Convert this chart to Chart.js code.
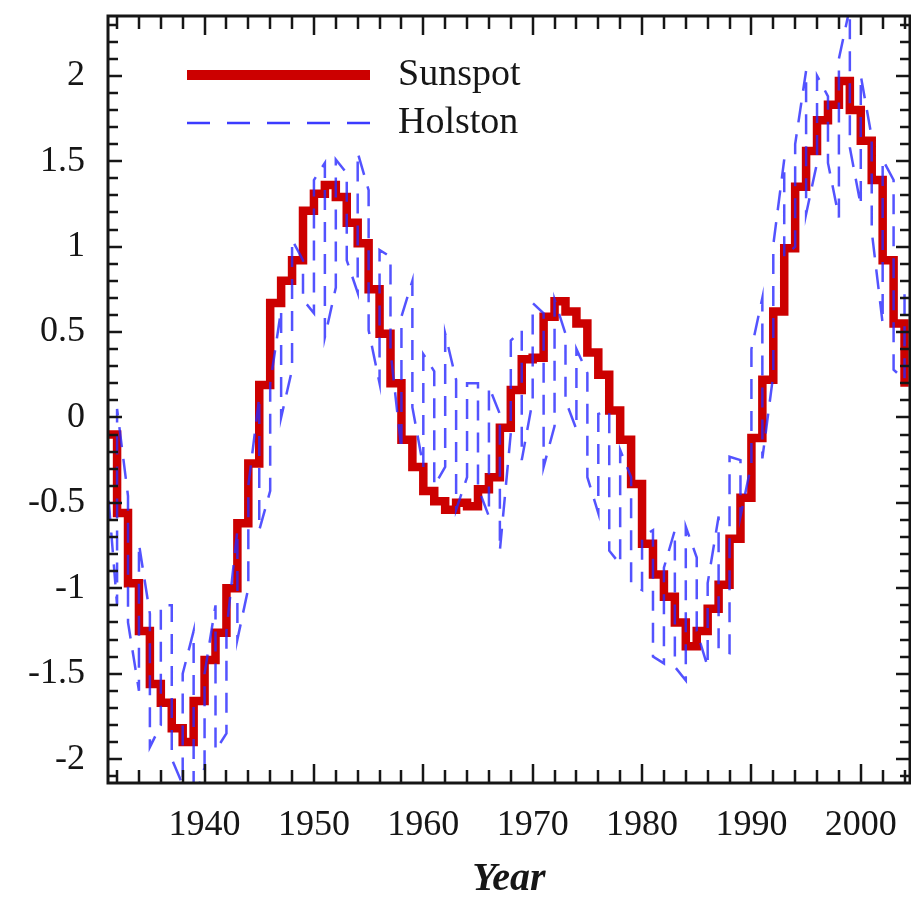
<!DOCTYPE html>
<html>
<head>
<meta charset="utf-8">
<script src="https://cdn.jsdelivr.net/npm/chart.js@4.4.0/dist/chart.umd.min.js"></script>
<style>
  html, body { margin: 0; padding: 0; background: #fff; }
  #wrap { width: 911px; height: 897px; }
</style>
</head>
<body>
<div id="wrap"><canvas id="chart" width="911" height="897"></canvas></div>
<script>
// --- Data ---
const years = [
  1931, 1932, 1933, 1934, 1935, 1936, 1937, 1938, 1939, 1940,
  1941, 1942, 1943, 1944, 1945, 1946, 1947, 1948, 1949, 1950,
  1951, 1952, 1953, 1954, 1955, 1956, 1957, 1958, 1959, 1960,
  1961, 1962, 1963, 1964, 1965, 1966, 1967, 1968, 1969, 1970,
  1971, 1972, 1973, 1974, 1975, 1976, 1977, 1978, 1979, 1980,
  1981, 1982, 1983, 1984, 1985, 1986, 1987, 1988, 1989, 1990,
  1991, 1992, 1993, 1994, 1995, 1996, 1997, 1998, 1999, 2000,
  2001, 2002, 2003, 2004
];

// Sunspot (annual, drawn as steps)
const sunspot = [
  -0.10, -0.56, -0.97, -1.25, -1.56, -1.67, -1.82, -1.90, -1.66, -1.42,
  -1.26, -1.00, -0.62, -0.27, 0.19, 0.67, 0.80, 0.92, 1.21, 1.31,
  1.36, 1.29, 1.14, 1.02, 0.75, 0.49, 0.20, -0.13, -0.29, -0.43,
  -0.49, -0.54, -0.50, -0.52, -0.42, -0.35, -0.06, 0.16, 0.34, 0.35,
  0.59, 0.68, 0.62, 0.55, 0.38, 0.25, 0.04, -0.13, -0.39, -0.74,
  -0.92, -1.05, -1.20, -1.34, -1.25, -1.12, -0.98, -0.71, -0.47, -0.12,
  0.22, 0.62, 0.99, 1.35, 1.56, 1.74, 1.83, 1.97, 1.80, 1.62,
  1.39, 0.92, 0.55, 0.18
];

// Holston: upper and lower value of each year's swing
const holstonHigh = [
  -0.05, 0.05, -0.46, -0.74, -1.15, -1.10, -1.10, -1.50, -1.25, -1.50,
  -1.10, -1.25, -0.66, -0.40, 0.12, 0.20, 0.63, 1.04, 0.92, 1.39,
  1.49, 1.51, 1.43, 1.55, 1.33, 0.98, 0.94, 0.59, 0.80, 0.37,
  0.27, 0.49, 0.22, 0.20, 0.20, 0.18, 0.02, 0.45, 0.51, 0.67,
  0.61, 0.69, 0.49, 0.40, 0.26, 0.02, 0.04, -0.19, -0.35, -0.70,
  -0.66, -0.88, -0.66, -0.64, -0.82, -0.97, -0.58, -0.23, -0.25, 0.40,
  0.70, 1.01, 1.51, 1.60, 2.03, 2.00, 1.88, 2.10, 2.40, 2.00,
  1.64, 1.51, 1.39, 0.79
];
const holstonLow = [
  -0.30, -1.10, -1.20, -1.60, -1.93, -1.80, -2.00, -2.15, -2.25, -2.05,
  -1.95, -1.85, -1.30, -1.00, -0.66, -0.43, 0.00, 0.28, 0.69, 0.61,
  0.47, 0.76, 0.92, 0.73, 0.51, 0.20, 0.39, -0.19, 0.06, -0.29,
  -0.40, -0.29, -0.54, -0.35, -0.41, -0.58, -0.78, -0.09, -0.25, 0.10,
  -0.29, -0.05, 0.10, -0.07, -0.35, -0.56, -0.78, -0.86, -0.97, -1.01,
  -1.40, -1.44, -1.46, -1.54, -1.25, -1.46, -1.36, -1.38, -0.58, -0.27,
  -0.24, 0.25, 0.94, 1.00, 1.19, 1.49, 1.49, 1.17, 1.58, 1.24,
  1.09, 0.55, 0.28, 0.22
];

const xTickLabels = [1940, 1950, 1960, 1970, 1980, 1990, 2000];

// --- Build datasets ---
const sunspotPoints = years.map((yr, i) => ({ x: yr, y: sunspot[i] }));

// each year is one vertical swing; direction alternates so the path zigzags
const holstonPoints = [];
years.forEach((yr, i) => {
  const pair = i % 2 === 0 ? [holstonHigh[i], holstonLow[i]] : [holstonLow[i], holstonHigh[i]];
  holstonPoints.push({ x: yr, y: pair[0] }, { x: yr, y: pair[1] });
});

const SERIF = '"Liberation Serif", "Times New Roman", serif';
const INK = '#161616';

// Inward tick marks on all four sides plus the frame
const framePlugin = {
  id: 'frameTicks',
  afterDatasetsDraw(chart) {
    const { ctx, chartArea: a, scales } = chart;
    ctx.save();
    ctx.strokeStyle = INK;
    ctx.lineWidth = 2.5;
    ctx.beginPath();
    for (let yr = 1932; yr <= 2004; yr += 2) {
      const px = Math.round(scales.x.getPixelForValue(yr));
      const len = yr % 10 === 0 ? 19 : 13;
      ctx.moveTo(px, a.bottom); ctx.lineTo(px, a.bottom - len);
      ctx.moveTo(px, a.top); ctx.lineTo(px, a.top + len);
    }
    for (let k = -21; k <= 23; k++) {
      const py = Math.round(scales.y.getPixelForValue(k / 10));
      const len = k % 5 === 0 ? 14 : 10;
      ctx.moveTo(a.left, py); ctx.lineTo(a.left + len, py);
      ctx.moveTo(a.right, py); ctx.lineTo(a.right - len, py);
    }
    ctx.stroke();
    ctx.lineWidth = 3;
    ctx.strokeRect(a.left, a.top, a.right - a.left, a.bottom - a.top);
    ctx.restore();
  }
};

// Legend drawn inside the plot, top left
const legendPlugin = {
  id: 'innerLegend',
  afterDraw(chart) {
    const { ctx, chartArea: a } = chart;
    chart.data.datasets.forEach((ds, i) => {
      const y = a.top + 59 + i * 48;
      ctx.save();
      ctx.strokeStyle = i === 0 ? ds.borderColor : '#3b3bff';
      ctx.lineWidth = i === 0 ? 10 : 2.5;
      ctx.setLineDash(i === 0 ? [] : [23, 17]);
      ctx.beginPath();
      ctx.moveTo(a.left + 79, y);
      ctx.lineTo(a.left + 262, y);
      ctx.stroke();
      ctx.setLineDash([]);
      ctx.fillStyle = INK;
      ctx.font = '38px ' + SERIF;
      ctx.textBaseline = 'alphabetic';
      ctx.fillText(ds.label, a.left + 290, y + 10);
      ctx.restore();
    });
  }
};

new Chart(document.getElementById('chart'), {
  type: 'line',
  data: {
    datasets: [
      {
        label: 'Sunspot',
        data: sunspotPoints,
        borderColor: '#cc0000',
        borderWidth: 8.5,
        stepped: 'before',
        borderJoinStyle: 'miter',
        pointRadius: 0,
        fill: false,
        clip: 0,
        order: 2
      },
      {
        label: 'Holston',
        data: holstonPoints,
        borderColor: 'rgba(40, 40, 255, 0.8)',
        borderWidth: 2.5,
        borderDash: [20, 12],
        pointRadius: 0,
        tension: 0,
        fill: false,
        clip: 0,
        order: 1
      }
    ]
  },
  options: {
    responsive: false,
    animation: false,
    devicePixelRatio: 1,
    layout: { padding: { left: 0, right: 1, top: 16, bottom: 0 } },
    plugins: {
      legend: { display: false },
      tooltip: { enabled: false }
    },
    scales: {
      x: {
        type: 'linear',
        min: 1931.17,
        max: 2004.5,
        grid: { display: false, drawTicks: false },
        border: { display: false },
        afterBuildTicks: s => { s.ticks = xTickLabels.map(v => ({ value: v })); },
        ticks: {
          padding: 21,
          color: INK,
          font: { family: SERIF, size: 36 },
          maxRotation: 0,
          autoSkip: false,
          callback: v => String(v)
        },
        title: {
          display: true,
          text: 'Year',
          color: INK,
          padding: { top: 0, bottom: -3 },
          font: { family: SERIF, size: 40, weight: 'bold', style: 'italic', lineHeight: 1 }
        },
        afterFit: s => {
          s.height = 114;
          s.paddingLeft = 0; s.paddingRight = 0;
        }
      },
      y: {
        min: -2.14,
        max: 2.35,
        grid: { display: false, drawTicks: false },
        border: { display: false },
        ticks: {
          stepSize: 0.5,
          includeBounds: false,
          padding: 23,
          color: INK,
          font: { family: SERIF, size: 36 },
          callback: v => String(Math.round(v * 10) / 10)
        },
        afterFit: s => {
          s.width = 108;
          s.paddingTop = 0; s.paddingBottom = 0;
        }
      }
    }
  },
  plugins: [framePlugin, legendPlugin]
});
</script>
</body>
</html>
